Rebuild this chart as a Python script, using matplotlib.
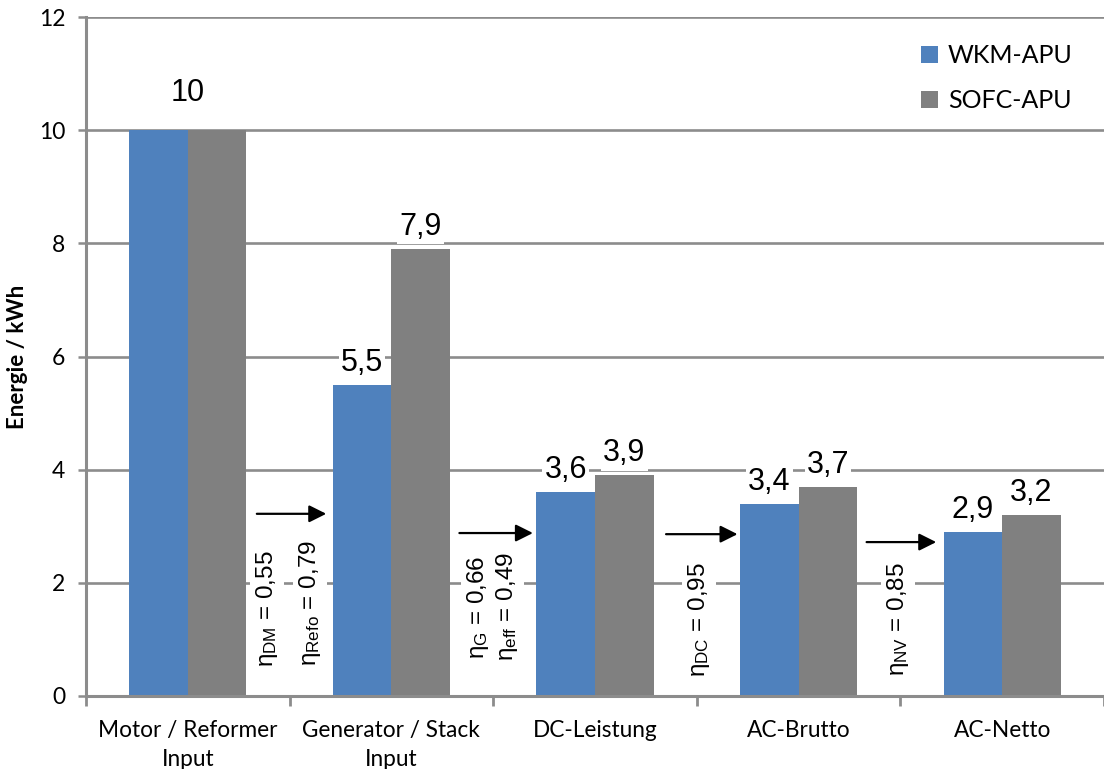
import matplotlib
matplotlib.use("Agg")
import matplotlib.pyplot as plt
from matplotlib.patches import Patch
import numpy as np

plt.rcParams["mathtext.fontset"] = "custom"
plt.rcParams["mathtext.rm"] = "Liberation Sans"
plt.rcParams["mathtext.it"] = "Liberation Sans:italic"

# Energy chain of the two APU concepts
categories = ["Motor / Reformer\nInput", "Generator / Stack\nInput",
              "DC-Leistung", "AC-Brutto", "AC-Netto"]
wkm_apu = [10.0, 5.5, 3.6, 3.4, 2.9]
sofc_apu = [10.0, 7.9, 3.9, 3.7, 3.2]
series_names = ["WKM-APU", "SOFC-APU"]
yticks = [0, 2, 4, 6, 8, 10, 12]

# Efficiency annotations between the stages
eta_texts = [r"$\mathrm{η_{DM}}$ = 0,55", r"$\mathrm{η_{Refo}}$ = 0,79",
             r"$\mathrm{η_{G}}$ = 0,66", r"$\mathrm{η_{eff}}$ = 0,49",
             r"$\mathrm{η_{DC}}$ = 0,95", r"$\mathrm{η_{NV}}$ = 0,85"]

BLUE = "#4F81BD"
GRAY = "#808080"
AXIS_GRAY = "#8C8C8C"

W, H = 1104, 769
fig = plt.figure(figsize=(W / 100, H / 100), dpi=100)
left_px, right_px, top_px, bottom_px = 86, 1104, 17, 696
cat_px = 205.0
ax = fig.add_axes([left_px / W, 1 - bottom_px / H,
                   (right_px - left_px) / W, (bottom_px - top_px) / H])

x = np.arange(len(categories))
bw = 59 / cat_px
ax.bar(x - bw / 2, wkm_apu, bw, color=BLUE, zorder=2, linewidth=0)
ax.bar(x + bw / 2, sofc_apu, bw, color=GRAY, zorder=2, linewidth=0)

ax.set_xlim(-0.5, -0.5 + (right_px - left_px) / cat_px)
ax.set_ylim(0, 12)
ax.set_yticks(yticks)
ax.set_yticklabels([str(t) for t in yticks], fontfamily="Lato", fontsize=16.5)
ax.yaxis.grid(True, color=AXIS_GRAY, linewidth=1.9, zorder=0)
ax.set_axisbelow(True)

for s in ["top", "right"]:
    ax.spines[s].set_visible(False)
for s in ["left", "bottom"]:
    ax.spines[s].set_color(AXIS_GRAY)
    ax.spines[s].set_linewidth(2.2)
    ax.spines[s].set_zorder(3)

ax.tick_params(axis="y", length=6, width=1.8, color=AXIS_GRAY, pad=9)
ax.set_xticks(x)
ax.set_xticklabels(categories, fontfamily="Lato", fontsize=16.3, linespacing=1.5)
ax.tick_params(axis="x", length=0, pad=17)
ax.set_xticks(np.arange(len(categories) + 1) - 0.5, minor=True)
ax.tick_params(axis="x", which="minor", length=7, width=2, color=AXIS_GRAY)


def fmt(v):
    return f"{v:g}".replace(".", ",")


label_kw = dict(fontfamily="Liberation Sans", fontsize=22, ha="center",
                va="baseline", textcoords="offset points", zorder=4,
                bbox=dict(facecolor="white", edgecolor="none", pad=1.5))
for i, (a, b) in enumerate(zip(wkm_apu, sofc_apu)):
    if a == b:
        ax.annotate(fmt(a), (i, a), xytext=(0, 21), **label_kw)
    else:
        ax.annotate(fmt(a), (i - bw / 2, a), xytext=(0, 10), **label_kw)
        ax.annotate(fmt(b), (i + bw / 2, b), xytext=(0, 10), **label_kw)

# Arrows and efficiency texts in the gaps between stages
arrows = [(0.339, 0.680, 3.22), (1.334, 1.695, 2.88),
          (2.349, 2.700, 2.86), (3.334, 3.676, 2.72)]
for x0, x1, yy in arrows:
    ax.annotate("", xy=(x1, yy), xytext=(x0, yy), zorder=5,
                arrowprops=dict(arrowstyle="-|>", color="black", lw=1.6,
                                mutation_scale=26, shrinkA=0, shrinkB=0))

eta_pos = [(0.388, 2.58), (0.600, 2.76), (1.427, 2.49), (1.568, 2.54),
           (2.510, 2.37), (3.490, 2.37)]
for txt, (ex, ey) in zip(eta_texts, eta_pos):
    ax.text(ex, ey, txt, rotation=90, ha="center", va="top",
            fontfamily="Liberation Sans", fontsize=17.5, zorder=4,
            bbox=dict(facecolor="white", edgecolor="none", pad=3))

fig.text(18 / W, 1 - 357 / H, "Energie / kWh", rotation=90, ha="center",
         va="center", fontfamily="Lato", fontweight="bold", fontsize=16)

handles = [Patch(facecolor=BLUE, edgecolor="none"),
           Patch(facecolor=GRAY, edgecolor="none")]
ax.legend(handles, series_names, loc="upper left",
          bbox_to_anchor=(921 / W, 1 - 44 / H), bbox_transform=fig.transFigure,
          frameon=False, prop=dict(family="Lato", size=18),
          handlelength=0.68, handleheight=0.68, handletextpad=0.4,
          labelspacing=0.9, borderaxespad=0, borderpad=0)

fig.savefig("out.png", dpi=100)
